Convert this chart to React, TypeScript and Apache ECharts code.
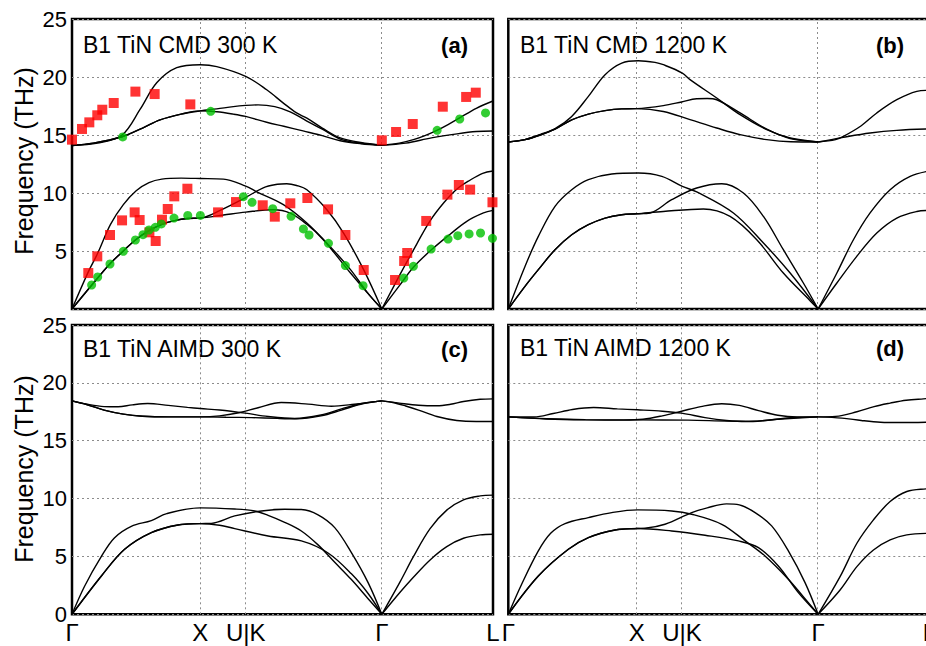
import React, { useEffect, useRef } from "react";
import * as echarts from "echarts";

// High-symmetry path (distance units) and labels
const pathTicks = [0, 1, 1.3536, 2.4142, 3.2802];
const pathLabels = ["Γ", "X", "U|K", "Γ", "L"];
const yTicks = [0, 5, 10, 15, 20, 25];

// ---------- (a) CMD 300 K ----------
const a_LA = [[0,0],[0.127,3.2],[0.2,4.8],[0.3,7.3],[0.4,9.0],[0.5,10.2],[0.6,10.9],[0.7,11.2],[0.85,11.28],[1.0,11.25],[1.18,11.2],[1.353,10.6],[1.44,10.1],[1.647,9.0],[1.83,7.41],[2.01,5.4],[2.17,3.39],[2.296,1.5],[2.414,0]];
const a_TA1 = [[0,0],[0.153,2.05],[0.296,3.9],[0.4,5.0],[0.494,5.95],[0.6,6.75],[0.7,7.3],[0.8,7.62],[0.9,7.8],[1.0,7.84],[1.154,8.5],[1.335,9.5],[1.49,10.45],[1.6,10.75],[1.673,10.8],[1.75,10.65],[1.83,10.28],[1.986,8.56],[2.116,6.55],[2.272,3.39],[2.414,0]];
const a_TA2 = [[0,0],[0.153,2.05],[0.296,3.9],[0.4,5.0],[0.494,5.95],[0.6,6.75],[0.7,7.3],[0.8,7.62],[0.9,7.8],[1.0,7.84],[1.18,8.1],[1.353,8.35],[1.569,8.56],[1.7,8.27],[1.83,7.3],[1.958,5.97],[2.17,3.1],[2.325,1.09],[2.414,0]];
const a_LO = [[0,14.1],[0.2,14.3],[0.39,15.0],[0.53,17.2],[0.66,19.5],[0.816,20.8],[1.0,21.06],[1.128,20.9],[1.353,20.06],[1.517,18.9],[1.647,17.75],[1.75,16.9],[1.83,16.45],[1.95,15.6],[2.09,14.75],[2.25,14.35],[2.414,14.12]];
const a_TO1 = [[0,14.1],[0.166,14.3],[0.39,14.85],[0.55,15.6],[0.686,16.3],[0.85,16.8],[1.0,17.08],[1.128,17.25],[1.257,17.45],[1.353,17.55],[1.45,17.6],[1.58,17.45],[1.7,17.0],[1.83,16.2],[1.95,15.5],[2.09,14.65],[2.25,14.3],[2.414,14.12]];
const a_TO2 = [[0,14.1],[0.166,14.3],[0.39,14.85],[0.55,15.6],[0.686,16.3],[0.85,16.8],[1.0,17.08],[1.128,17.0],[1.257,16.8],[1.353,16.6],[1.517,16.1],[1.65,15.75],[1.8,15.35],[1.95,14.95],[2.09,14.5],[2.25,14.25],[2.414,14.12]];
const a_LA_L = [[2.414,0],[2.557,3.0],[2.686,5.6],[2.79,7.6],[2.9,9.2],[3.0,10.35],[3.1,11.1],[3.2,11.7],[3.28,11.9]];
const a_TA_L = [[2.414,0],[2.557,2.1],[2.66,3.6],[2.8,5.1],[2.946,6.45],[3.076,7.56],[3.206,8.28],[3.28,8.5]];
const a_LO_L = [[2.414,14.12],[2.55,14.3],[2.66,14.6],[2.75,14.95],[2.843,15.4],[2.93,15.9],[3.024,16.5],[3.15,17.3],[3.28,17.93]];
const a_TO_L = [[2.414,14.12],[2.6,14.3],[2.8,14.75],[3.0,15.1],[3.15,15.3],[3.28,15.35]];

// experimental points, panel (a)
const expSquares = [
  [0,14.6],[0.078,15.52],[0.135,16.09],[0.197,16.7],[0.236,17.18],[0.325,17.76],[0.494,18.74],[0.644,18.53],[0.922,17.64],
  [2.414,14.54],[2.525,15.26],[2.655,15.95],[2.889,17.44],[3.071,18.28],[3.146,18.65],
  [0.127,3.1],[0.197,4.54],[0.296,6.38],[0.39,7.64],[0.488,8.33],[0.527,7.67],[0.603,6.61],[0.652,5.86],[0.701,7.7],[0.746,8.62],[0.797,9.71],[0.899,10.37],
  [1.138,8.33],[1.278,9.22],[1.486,8.94],[1.58,7.96],[1.701,9.11],[1.834,9.57],[1.995,8.59],[2.13,6.38],[2.273,3.36],
  [2.517,2.5],[2.588,4.14],[2.612,4.83],[2.76,7.59],[2.925,9.86],[3.014,10.69],[3.102,10.29],[3.276,9.2]
];
const expCircles = [
  [0.395,14.83],[1.081,17.04],[2.845,15.4],[3.021,16.38],[3.222,16.9],
  [0.153,2.07],[0.2,2.76],[0.296,3.88],[0.4,4.97],[0.494,5.95],[0.553,6.41],[0.6,6.81],[0.649,7.04],[0.696,7.33],[0.795,7.84],[0.902,8.07],[1.0,8.07],
  [1.335,9.68],[1.403,9.2],[1.564,8.65],[1.707,7.99],[1.803,6.9],[1.847,6.38],[1.998,5.66],[2.13,3.74],[2.268,2.01],
  [2.585,2.67],[2.66,3.68],[2.798,5.17],[2.93,6.03],[3.006,6.32],[3.094,6.47],[3.183,6.55],[3.276,6.09]
];

// ---------- (b) CMD 1200 K ----------
const b_LA = [[0,0],[0.13,3.67],[0.234,6.26],[0.364,8.85],[0.494,10.28],[0.624,11.15],[0.806,11.64],[1.013,11.72],[1.196,11.43],[1.356,10.57],[1.468,10.1],[1.754,8.28],[1.988,5.69],[2.196,3.1],[2.414,0]];
const b_TA1 = [[0,0],[0.13,1.95],[0.234,3.39],[0.364,5.11],[0.494,6.4],[0.624,7.27],[0.754,7.84],[0.884,8.13],[1.0,8.21],[1.104,8.28],[1.273,9.42],[1.468,10.43],[1.663,10.8],[1.832,10.0],[1.988,7.98],[2.143,5.11],[2.299,2.24],[2.414,0]];
const b_TA2 = [[0,0],[0.13,1.95],[0.234,3.39],[0.364,5.11],[0.494,6.4],[0.624,7.27],[0.754,7.84],[0.884,8.13],[1.0,8.21],[1.208,8.41],[1.52,8.62],[1.728,7.98],[1.936,5.97],[2.143,3.1],[2.351,0.72],[2.414,0]];
const b_LO = [[0,14.4],[0.13,14.6],[0.25,15.05],[0.364,15.55],[0.494,16.6],[0.624,18.33],[0.754,20.2],[0.884,21.2],[1.013,21.4],[1.143,21.26],[1.208,21.06],[1.356,20.34],[1.416,19.77],[1.624,18.19],[1.806,16.75],[2.014,15.46],[2.196,14.74],[2.414,14.4]];
const b_TO1 = [[0,14.4],[0.13,14.6],[0.25,15.0],[0.364,15.5],[0.494,16.3],[0.624,16.8],[0.754,17.1],[0.884,17.25],[1.0,17.27],[1.208,17.53],[1.35,17.85],[1.468,18.13],[1.55,18.15],[1.624,18.04],[1.806,16.9],[2.014,15.5],[2.196,14.7],[2.414,14.4]];
const b_TO2 = [[0,14.4],[0.13,14.6],[0.25,15.0],[0.364,15.5],[0.494,16.3],[0.624,16.8],[0.754,17.1],[0.884,17.25],[1.0,17.27],[1.208,17.03],[1.416,16.32],[1.624,15.6],[1.806,15.03],[2.014,14.6],[2.2,14.42],[2.414,14.4]];
const b_LA_L = [[2.414,0],[2.56,3.1],[2.689,5.97],[2.819,8.28],[2.975,10.28],[3.131,11.43],[3.28,11.9]];
const b_TA_L = [[2.414,0],[2.56,2.24],[2.715,4.54],[2.871,6.55],[3.027,7.84],[3.183,8.41],[3.28,8.5]];
const b_LO_L = [[2.414,14.4],[2.55,14.6],[2.611,14.88],[2.75,15.8],[2.871,16.9],[3.027,18.04],[3.183,18.76],[3.28,18.85]];
const b_TO_L = [[2.414,14.4],[2.611,14.8],[2.819,15.17],[3.027,15.4],[3.28,15.52]];

// ---------- (c) AIMD 300 K ----------
const c_LA = [[0,0],[0.099,2.45],[0.229,5.0],[0.33,6.6],[0.462,7.6],[0.618,8.1],[0.738,8.7],[1.0,9.2],[1.268,9.1],[1.424,8.93],[1.528,8.55],[1.657,7.95],[1.787,7.2],[1.917,6.0],[2.047,4.5],[2.177,3.0],[2.307,1.35],[2.414,0]];
const c_TA1 = [[0,0],[0.229,3.31],[0.41,5.62],[0.618,7.06],[0.826,7.72],[1.0,7.84],[1.086,7.86],[1.268,8.5],[1.476,8.93],[1.657,9.08],[1.787,9.05],[1.917,8.6],[2.047,7.49],[2.177,5.33],[2.307,2.74],[2.414,0]];
const c_TA2 = [[0,0],[0.229,3.31],[0.41,5.62],[0.618,7.06],[0.826,7.72],[1.0,7.84],[1.15,7.7],[1.268,7.4],[1.528,6.77],[1.787,6.34],[1.995,5.3],[2.177,3.5],[2.307,1.8],[2.414,0]];
const c_O1 = [[0,18.44],[0.12,18.15],[0.25,17.95],[0.359,17.93],[0.47,18.1],[0.59,18.21],[0.75,18.05],[0.9,17.88],[1.0,17.78],[1.15,17.65],[1.35,17.38],[1.528,17.09],[1.735,16.92],[1.94,17.22],[2.1,17.75],[2.25,18.2],[2.414,18.44]];
const c_O2 = [[0,18.44],[0.12,18.1],[0.25,17.65],[0.4,17.3],[0.55,17.12],[0.75,17.06],[1.0,17.06],[1.15,17.15],[1.3,17.42],[1.45,17.85],[1.63,18.3],[1.84,18.16],[2.02,17.98],[2.2,18.15],[2.414,18.44]];
const c_O3 = [[0,18.44],[0.12,18.1],[0.25,17.65],[0.4,17.3],[0.55,17.12],[0.75,17.06],[1.0,17.06],[1.2,17.03],[1.4,17.0],[1.6,16.93],[1.75,16.9],[1.94,17.15],[2.1,17.65],[2.25,18.15],[2.414,18.44]];
const c_LA_L = [[2.414,0],[2.556,2.8],[2.66,4.98],[2.79,7.4],[2.92,9.0],[3.05,9.89],[3.18,10.23],[3.28,10.3]];
const c_TA_L = [[2.414,0],[2.556,1.9],[2.66,3.2],[2.79,4.7],[2.92,5.85],[3.05,6.57],[3.18,6.86],[3.28,6.92]];
const c_O1_L = [[2.414,18.44],[2.55,18.25],[2.7,18.07],[2.843,18.02],[2.95,18.15],[3.05,18.39],[3.18,18.58],[3.28,18.62]];
const c_O2_L = [[2.414,18.44],[2.5,18.3],[2.6,18.0],[2.7,17.65],[2.843,17.09],[2.998,16.75],[3.15,16.66],[3.28,16.66]];

// ---------- (d) AIMD 1200 K ----------
const d_LA = [[0,0],[0.104,2.6],[0.234,5.48],[0.33,7.0],[0.442,7.84],[0.624,8.36],[0.806,8.79],[1.006,9.02],[1.273,8.93],[1.429,8.65],[1.663,7.78],[1.845,6.34],[2.0,5.04],[2.182,3.03],[2.3,1.5],[2.414,0]];
const d_TA1 = [[0,0],[0.234,3.31],[0.468,5.62],[0.624,6.63],[0.832,7.29],[1.006,7.42],[1.065,7.44],[1.221,7.78],[1.429,8.79],[1.55,9.2],[1.7,9.54],[1.8,9.45],[1.923,8.79],[2.052,7.64],[2.182,5.48],[2.312,2.74],[2.414,0]];
const d_TA2 = [[0,0],[0.234,3.31],[0.468,5.62],[0.624,6.63],[0.832,7.29],[1.006,7.42],[1.273,7.2],[1.533,6.83],[1.793,6.34],[1.949,5.76],[2.104,4.18],[2.26,1.87],[2.414,0]];
const d_O1 = [[0,17.06],[0.2,17.05],[0.35,17.35],[0.5,17.7],[0.665,17.87],[0.85,17.75],[1.006,17.67],[1.2,17.55],[1.35,17.38],[1.533,17.0],[1.7,16.75],[1.85,16.65],[2.0,16.75],[2.2,16.98],[2.414,17.06]];
const d_O2 = [[0,17.06],[0.3,16.88],[0.6,16.8],[0.9,16.78],[1.05,16.85],[1.2,17.15],[1.35,17.55],[1.5,17.95],[1.663,18.2],[1.8,18.05],[1.95,17.6],[2.1,17.2],[2.25,17.06],[2.414,17.06]];
const d_O3 = [[0,17.06],[0.3,16.9],[0.6,16.82],[1.0,16.8],[1.4,16.78],[1.7,16.7],[1.9,16.68],[2.1,16.85],[2.414,17.06]];
const d_LA_L = [[2.414,0],[2.585,3.25],[2.716,6.14],[2.845,8.16],[2.975,9.74],[3.105,10.61],[3.255,10.84],[3.28,10.85]];
const d_TA_L = [[2.414,0],[2.585,2.1],[2.716,4.12],[2.845,5.56],[2.975,6.43],[3.105,6.86],[3.28,7.0]];
const d_O1_L = [[2.414,17.06],[2.55,17.1],[2.716,17.5],[2.85,17.95],[2.975,18.25],[3.1,18.5],[3.235,18.62],[3.28,18.65]];
const d_O2_L = [[2.414,17.06],[2.6,16.95],[2.75,16.75],[2.9,16.6],[3.05,16.57],[3.28,16.6]];

const titles = ["B1 TiN CMD 300 K", "B1 TiN CMD 1200 K", "B1 TiN AIMD 300 K", "B1 TiN AIMD 1200 K"];
const tags = ["(a)", "(b)", "(c)", "(d)"];
const yName = "Frequency (THz)";

const FONT = "'Liberation Sans', Arial, sans-serif";

export default function App() {
  const ref = useRef<HTMLDivElement>(null);
  useEffect(() => {
    if (!ref.current) return;
    const chart = echarts.init(ref.current, null, { renderer: "svg" });

    const bandSets = [
      [a_LA, a_TA1, a_TA2, a_LO, a_TO1, a_TO2, a_LA_L, a_TA_L, a_LO_L, a_TO_L],
      [b_LA, b_TA1, b_TA2, b_LO, b_TO1, b_TO2, b_LA_L, b_TA_L, b_LO_L, b_TO_L],
      [c_LA, c_TA1, c_TA2, c_O1, c_O2, c_O3, c_LA_L, c_TA_L, c_O1_L, c_O2_L],
      [d_LA, d_TA1, d_TA2, d_O1, d_O2, d_O3, d_LA_L, d_TA_L, d_O1_L, d_O2_L],
    ];

    const L1 = 72, L2 = 508.3, T1 = 19, T2 = 325, W = 421, H1 = 290, H2 = 289.3;
    const grids = [
      { left: L1, top: T1, width: W, height: H1 },
      { left: L2, top: T1, width: W, height: H1 },
      { left: L1, top: T2, width: W, height: H2 },
      { left: L2, top: T2, width: W, height: H2 },
    ].map((g) => ({ ...g, show: true, borderColor: "#000", borderWidth: 2.5, backgroundColor: "transparent", containLabel: false }));

    const labelFor = (v: number) => {
      const i = pathTicks.findIndex((t) => Math.abs(t - v) < 1e-6);
      return i >= 0 ? pathLabels[i] : "";
    };

    const xAxes = grids.map((_, i) => ({
      type: "value",
      gridIndex: i,
      min: pathTicks[0],
      max: pathTicks[pathTicks.length - 1],
      axisLine: { show: false },
      axisTick: { show: false },
      splitLine: { show: false },
      axisLabel: {
        show: i >= 2,
        customValues: pathTicks,
        formatter: (v: number) => labelFor(v),
        fontSize: 24,
        fontFamily: FONT,
        color: "#000",
        margin: 6,
      },
    }));

    const yAxes = grids.map((_, i) => ({
      type: "value",
      gridIndex: i,
      min: yTicks[0],
      max: yTicks[yTicks.length - 1],
      interval: 5,
      axisLine: { show: false },
      axisTick: { show: false },
      splitLine: { show: true, lineStyle: { color: "#8c8c8c", type: [2, 3], width: 1 } },
      axisLabel: {
        show: i === 0 || i === 2,
        fontSize: 22,
        fontFamily: FONT,
        color: "#000",
        margin: 5,
        formatter: (v: number) => (i === 0 && v === 0 ? "" : String(v)),
      },
    }));

    const series: any[] = [];
    bandSets.forEach((bands, gi) => {
      bands.forEach((band, bi) => {
        series.push({
          type: "line",
          xAxisIndex: gi,
          yAxisIndex: gi,
          data: band,
          showSymbol: false,
          smooth: 0.35,
          silent: true,
          lineStyle: { color: "#000", width: 1.4 },
          z: 3,
          markLine:
            bi === 0
              ? {
                  silent: true,
                  symbol: ["none", "none"],
                  label: { show: false },
                  lineStyle: { color: "#8c8c8c", type: [2, 3], width: 1 },
                  data: pathTicks.slice(1, 4).map((t) => ({ xAxis: t })),
                  z: 1,
                }
              : undefined,
        });
      });
    });
    series.push({
      type: "scatter",
      xAxisIndex: 0,
      yAxisIndex: 0,
      data: expSquares,
      symbol: "rect",
      symbolSize: 10,
      itemStyle: { color: "#ff0000" },
      silent: true,
      z: 4,
    });
    series.push({
      type: "scatter",
      xAxisIndex: 0,
      yAxisIndex: 0,
      data: expCircles,
      symbol: "circle",
      symbolSize: 9,
      itemStyle: { color: "#00c000" },
      silent: true,
      z: 4,
    });

    const titlePos = [
      [83, 45, 468],
      [520, 45, 904],
      [83, 349, 468],
      [520, 348, 904],
    ];
    const graphic: any[] = [];
    titles.forEach((t, i) => {
      const [x, y, rx] = titlePos[i];
      graphic.push({
        type: "text",
        x,
        y,
        silent: true,
        style: { text: t, fontSize: 23, fontFamily: FONT, fill: "#000", align: "left", verticalAlign: "middle", textAlign: "left", textVerticalAlign: "middle" },
      });
      graphic.push({
        type: "text",
        x: rx,
        y,
        silent: true,
        style: { text: tags[i], fontSize: 22, fontWeight: "bold", fontFamily: FONT, fill: "#000", align: "right", verticalAlign: "middle", textAlign: "right", textVerticalAlign: "middle" },
      });
    });
    [161, 469].forEach((cy) => {
      graphic.push({
        type: "text",
        x: 24,
        y: cy,
        rotation: Math.PI / 2,
        silent: true,
        style: { text: yName, fontSize: 25, fontFamily: FONT, fill: "#000", align: "center", verticalAlign: "middle", textAlign: "center", textVerticalAlign: "middle" },
      });
    });

    chart.setOption({
      animation: false,
      backgroundColor: "#fff",
      grid: grids,
      xAxis: xAxes,
      yAxis: yAxes,
      series,
      graphic,
    });
    return () => chart.dispose();
  }, []);

  return (
    <div style={{ position: "fixed", left: 0, top: 0, width: 926, height: 646, overflow: "hidden", background: "#fff" }}>
      <div ref={ref} style={{ width: 940, height: 646 }} />
    </div>
  );
}
